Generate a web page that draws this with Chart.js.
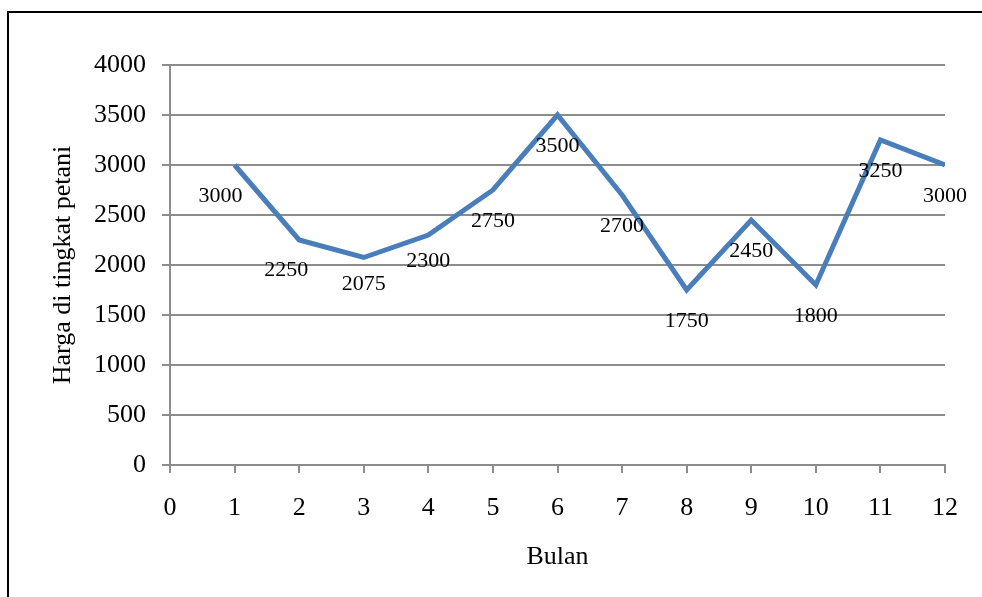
<!DOCTYPE html>
<html>
<head>
<meta charset="utf-8">
<script src="https://cdn.jsdelivr.net/npm/chart.js@4/dist/chart.umd.min.js"></script>
<style>
  html, body { margin: 0; padding: 0; background: #fff; }
  #wrap { position: relative; width: 982px; height: 597px; overflow: hidden; }
  #frame { position: absolute; left: 7px; top: 11px; width: 1000px; height: 620px;
           border-left: 2px solid #000; border-top: 2px solid #000; box-sizing: border-box; }
  canvas { position: absolute; left: 0; top: 0; }
</style>
</head>
<body>
<div id="wrap">
  <div id="frame"></div>
  <canvas id="c" width="982" height="597"></canvas>
</div>
<script>
// Data
const months = [1, 2, 3, 4, 5, 6, 7, 8, 9, 10, 11, 12];
const prices = [3000, 2250, 2075, 2300, 2750, 3500, 2700, 1750, 2450, 1800, 3250, 3000];
const xTitle = 'Bulan';
const yTitle = 'Harga di tingkat petani';

// label placement (pixel offsets from point, styling only)
const labelDx = [-14, -13, 0, 0, 0, 0, 0, 0, 0, 0, 0, 0];
const labelDy = [31, 30, 27, 26, 31, 31, 31, 31, 31, 31, 31, 31];

const FONT = "'Liberation Serif', 'Times New Roman', serif";
const GRID = '#8c8c8c';

const labelPlugin = {
  id: 'valueLabels',
  afterDatasetsDraw(chart) {
    const ctx = chart.ctx;
    const meta = chart.getDatasetMeta(0);
    ctx.save();
    ctx.font = '22px ' + FONT;
    ctx.fillStyle = '#000';
    ctx.textAlign = 'center';
    ctx.textBaseline = 'middle';
    meta.data.forEach((pt, i) => {
      ctx.fillText(String(prices[i]), pt.x + labelDx[i], pt.y + labelDy[i]);
    });
    ctx.restore();
  }
};

const points = months.map((m, i) => ({ x: m, y: prices[i] }));

new Chart(document.getElementById('c'), {
  type: 'line',
  data: {
    datasets: [{
      data: points,
      borderColor: '#4A7EBB',
      borderWidth: 5,
      pointRadius: 0,
      tension: 0,
      fill: false
    }]
  },
  options: {
    responsive: false,
    animation: false,
    events: [],
    layout: { padding: { left: 44, top: 65, right: 37, bottom: 0 } },
    plugins: { legend: { display: false }, tooltip: { enabled: false } },
    scales: {
      x: {
        type: 'linear',
        min: 0, max: 12,
        afterFit(s) { s.height = 132; },
        ticks: { stepSize: 1, color: '#000', font: { family: FONT, size: 26 }, padding: 20, maxRotation: 0,
                 callback: v => String(v) },
        grid: { drawOnChartArea: false, drawTicks: true, tickLength: 8, color: GRID, lineWidth: 2 },
        border: { display: true, color: GRID, width: 2 },
        title: { display: true, text: xTitle, color: '#000', font: { family: FONT, size: 26 }, padding: { top: 4, bottom: 24 } }
      },
      y: {
        min: 0, max: 4000,
        afterFit(s) { s.width = 126; },
        ticks: { stepSize: 500, color: '#000', font: { family: FONT, size: 26 }, padding: 16,
                 callback: v => String(v) },
        grid: { color: GRID, lineWidth: 2, tickLength: 8 },
        border: { display: true, color: GRID, width: 2 },
        title: { display: true, text: yTitle, color: '#000', font: { family: FONT, size: 26 }, padding: { top: 4, bottom: 4 } }
      }
    }
  },
  plugins: [labelPlugin]
});
</script>
</body>
</html>
